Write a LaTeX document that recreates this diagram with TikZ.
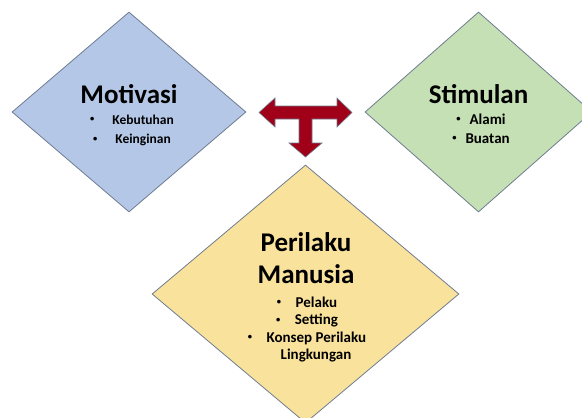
\documentclass[tikz,border=0pt]{standalone}
\usepackage{fontspec}
\setmainfont{Carlito}
\usepackage{tikz}
\usetikzlibrary{positioning,shapes.geometric}

\definecolor{biru}{HTML}{B4C7E7}
\definecolor{hijau}{HTML}{C5E0B4}
\definecolor{kuning}{HTML}{F9E29C}
\definecolor{garis}{HTML}{6F7C91}
\definecolor{merah}{HTML}{A00018}

\newcommand{\titik}{\raisebox{2.3pt}{\fontsize{8.5}{8.5}\selectfont\textbullet}}

\begin{document}
\begin{tikzpicture}[x=1pt,y=-1pt,
  kotak/.style={diamond, draw=garis, line width=0.8pt, inner sep=0pt},
  judul/.style={font=\bfseries\fontsize{27}{32}\selectfont, align=center, inner sep=0pt},
  butir/.style={font=\bfseries\fontsize{13.5}{19.5}\selectfont, align=center, inner sep=0pt}]
  \useasboundingbox (0,0) rectangle (582,418);

  % motivasi
  \node[kotak, fill=biru, minimum width=234pt, minimum height=200pt] (motivasi) at (129,112) {};
  \node[judul, anchor=base] (motivasiJ) at (129,103) {Motivasi};
  \node[butir, anchor=north] (motivasiB) at (132,114.5)
    {\titik\hspace{18pt}Kebutuhan\\ \titik\hspace{18pt}Keinginan};

  % stimulan
  \node[kotak, fill=hijau, minimum width=227pt, minimum height=200pt] (stimulan) at (478.5,112) {};
  \node[judul, anchor=base] (stimulanJ) at (478.5,103) {Stimulan};
  \node[butir, anchor=north, font=\bfseries\fontsize{15}{19}\selectfont] (stimulanB) at (481,113.5)
    {\titik\hspace{9pt}Alami\\ \titik\hspace{9pt}Buatan};

  % perilaku manusia
  \node[kotak, fill=kuning, minimum width=307pt, minimum height=258pt] (perilaku) at (305.5,294) {};
  \node[judul, anchor=north] (perilakuJ) at (306,232) {Perilaku\\Manusia};
  \node[butir, anchor=north, font=\bfseries\fontsize{15}{17.4}\selectfont] (perilakuB) at (307,296.5)
    {\titik\hspace{14.5pt}Pelaku\\ \titik\hspace{14.5pt}Setting\\
     \titik\hspace{14.5pt}Konsep Perilaku\\ \hspace*{18pt}Lingkungan};

  % panah T
  \draw[garis, line width=0.6pt, fill=merah]
    (259,112.5) -- (275,98) -- (275,106) -- (337,106) -- (337,98) -- (352,112.5)
    -- (337,127) -- (337,119) -- (312,119) -- (312,143) -- (322,143) -- (305.5,157)
    -- (289,143) -- (299,143) -- (299,119) -- (275,119) -- (275,127) -- cycle;
\end{tikzpicture}
\end{document}
